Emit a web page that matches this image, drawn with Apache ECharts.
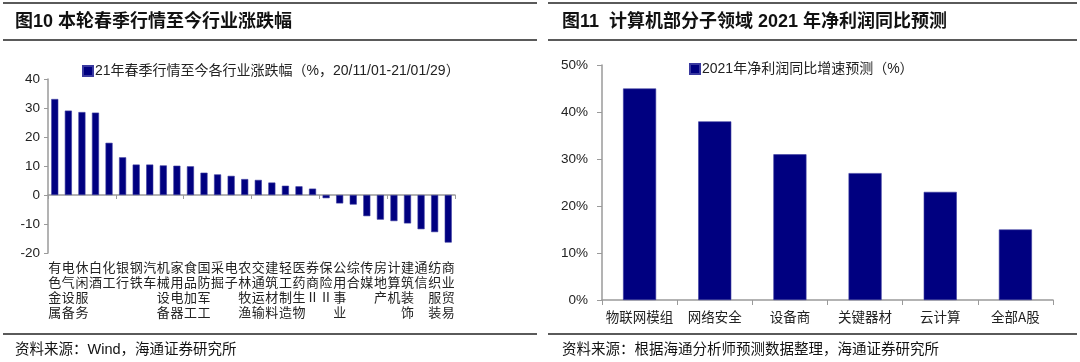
<!DOCTYPE html>
<html><head><meta charset="utf-8">
<script src="https://cdn.jsdelivr.net/npm/echarts@6/dist/echarts.min.js"></script>
<style>html,body{margin:0;padding:0;background:#fff}#c{width:1080px;height:362px}</style>
</head><body><div id="c"></div>
<script>
const leftCategories = ['有色金属','电气设备','休闲服务','白酒','化工','银行','钢铁','汽车','机械设备','家用电器','食品加工','国防军工','采掘','电子','农林牧渔','交通运输','建筑材料','轻工制造','医药生物','券商Ⅱ','保险Ⅱ','公用事业','综合','传媒','房地产','计算机','建筑装饰','通信','纺织服装','商业贸易'];
const leftValues = [33.1,29.1,28.6,28.4,18.0,13.0,10.5,10.5,10.2,10.1,9.9,7.7,7.1,6.6,5.5,5.2,4.3,3.2,3.0,2.2,-1.1,-2.9,-3.3,-7.3,-8.5,-9.0,-9.8,-11.8,-12.8,-16.4];
const leftTicks = [-20,-10,0,10,20,30,40];
const leftSeriesName = '21年春季行情至今各行业涨跌幅（%，20/11/01-21/01/29）';

const rightCategories = ['物联网模组','网络安全','设备商','关键器材','云计算','全部A股'];
const rightValues = [45,38,31,27,23,15];
const rightTicks = [0,10,20,30,40,50];
const rightSeriesName = '2021年净利润同比增速预测（%）';

const titleLeft = '图10 本轮春季行情至今行业涨跌幅';
const titleRight = '图11  计算机部分子领域 2021 年净利润同比预测';
const sourceLeft = '资料来源：Wind，海通证券研究所';
const sourceRight = '资料来源：根据海通分析师预测数据整理，海通证券研究所';

const FONT = '"Liberation Sans", Arial, "Noto Sans CJK SC", sans-serif';
const CJK = '"Noto Sans CJK SC", sans-serif';
const NAVY = '#000080';
const AX = '#9a9a9a';
const TXT = '#222';

const chart = echarts.init(document.getElementById('c'), null, {renderer:'canvas'});

function rule(x1,x2,y){return {type:'line',shape:{x1:x1,y1:y,x2:x2,y2:y},style:{stroke:'#5a5a5a',lineWidth:2}};}
function txt(x,y,t,size,weight){return {type:'text',x:x,y:y,style:{text:t,fill:'#111',font:(weight||'normal')+' '+size+'px '+FONT,textVerticalAlign:'middle'}};}

chart.setOption({
  animation:false,
  textStyle:{fontFamily:FONT},
  graphic:[
    rule(3,537,3), rule(3,537,40), rule(3,537,334),
    rule(548,1077,3), rule(548,1077,40), rule(548,1077,334),
    txt(15,22,titleLeft,18,'bold'),
    txt(562,22,titleRight,18,'bold'),
    txt(15,350,sourceLeft,14.5),
    txt(562,350,sourceRight,14.5)
  ],
  legend:[
    {data:[leftSeriesName],left:77,top:59,icon:'rect',itemWidth:10,itemHeight:10,itemGap:2,
     textStyle:{fontSize:14,color:TXT,fontFamily:FONT,padding:[0,0,0,-3]}},
    {data:[rightSeriesName],left:684,top:57,icon:'rect',itemWidth:10,itemHeight:10,itemGap:2,
     textStyle:{fontSize:14,color:TXT,fontFamily:FONT,padding:[0,0,0,-3]}}
  ],
  grid:[
    {left:48,top:79,width:407,height:174},
    {left:602,top:65,width:451,height:235}
  ],
  xAxis:[
    {type:'category',gridIndex:0,data:leftCategories,axisLine:{onZero:true,lineStyle:{color:AX,width:1.5}},
     axisTick:{show:true,length:4,lineStyle:{color:AX},inside:false},axisLabel:{show:false},splitLine:{show:false}},
    {type:'category',gridIndex:0,position:'bottom',data:leftCategories,axisLine:{show:false,onZero:false},axisTick:{show:false},
     axisLabel:{show:true,interval:0,margin:7,fontSize:13,lineHeight:15,color:TXT,fontFamily:CJK,
       formatter:function(v){return v.split('').join('\n');}}},
    {type:'category',gridIndex:1,data:rightCategories,axisLine:{lineStyle:{color:AX,width:1.5}},
     axisTick:{show:true,length:5,lineStyle:{color:AX}},
     axisLabel:{interval:0,margin:10,fontSize:13.5,color:TXT,fontFamily:CJK}}
  ],
  yAxis:[
    {type:'value',gridIndex:0,min:leftTicks[0],max:leftTicks[leftTicks.length-1],interval:10,
     axisLine:{show:true,lineStyle:{color:AX,width:1.5}},axisTick:{show:true,length:4,lineStyle:{color:AX}},
     axisLabel:{fontSize:13.5,color:TXT,margin:8},splitLine:{show:false}},
    {type:'value',gridIndex:1,min:rightTicks[0],max:rightTicks[rightTicks.length-1],interval:10,
     axisLine:{show:true,lineStyle:{color:AX,width:1.5}},axisTick:{show:true,length:5,lineStyle:{color:AX}},
     axisLabel:{fontSize:13.5,color:TXT,margin:14,formatter:'{value}%'},splitLine:{show:false}}
  ],
  series:[
    {name:leftSeriesName,type:'bar',xAxisIndex:0,yAxisIndex:0,data:leftValues,barWidth:'52%',
     itemStyle:{color:NAVY,borderColor:'#3a3aa0',borderWidth:0.6}},
    {name:rightSeriesName,type:'bar',xAxisIndex:2,yAxisIndex:1,data:rightValues,barWidth:'44%',
     itemStyle:{color:NAVY,borderColor:'#3a3aa0',borderWidth:0.6}}
  ]
});
</script></body></html>
